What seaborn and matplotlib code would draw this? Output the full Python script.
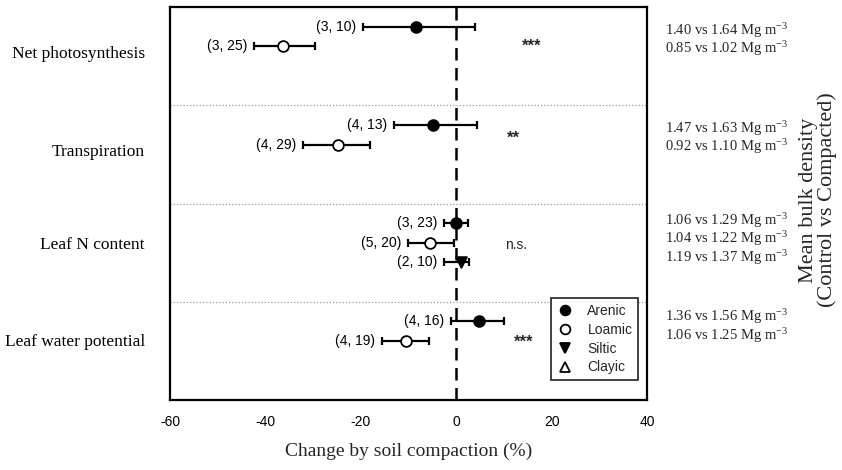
import matplotlib
matplotlib.use("Agg")
import matplotlib.pyplot as plt
import seaborn as sns
import pandas as pd
from matplotlib.lines import Line2D

# ---------------- data ----------------
variables = ["Net photosynthesis", "Transpiration", "Leaf N content", "Leaf water potential"]
row_variable = [0, 0, 1, 1, 2, 2, 2, 3, 3]
row_soil = ["Arenic", "Loamic", "Arenic", "Loamic", "Arenic", "Loamic", "Siltic", "Arenic", "Loamic"]
row_mean = [-8.4, -36.3, -4.9, -24.7, 0.0, -5.4, 1.0, 4.7, -10.5]
row_lo = [-19.5, -42.4, -13.1, -32.1, -2.5, -10.1, -2.5, -1.0, -15.5]
row_hi = [4.0, -29.5, 4.3, -18.0, 2.4, -0.5, 2.6, 10.0, -5.7]
row_n = ["(3, 10)", "(3, 25)", "(4, 13)", "(4, 29)", "(3, 23)", "(5, 20)", "(2, 10)", "(4, 16)", "(4, 19)"]
row_density = ["1.40 vs 1.64", "0.85 vs 1.02", "1.47 vs 1.63", "0.92 vs 1.10",
               "1.06 vs 1.29", "1.04 vs 1.22", "1.19 vs 1.37", "1.36 vs 1.56", "1.06 vs 1.25"]
significance = ["***", "**", "n.s.", "***"]
soils = ["Arenic", "Loamic", "Siltic", "Clayic"]
x_ticks = [-60, -40, -20, 0, 20, 40]

# ---------------- styling ----------------
sns.set_theme(style="white")
plt.rcParams["font.family"] = ["Liberation Sans", "DejaVu Sans"]
plt.rcParams["mathtext.default"] = "regular"
SERIF = ["Liberation Serif", "DejaVu Serif"]

marker_map = {"Arenic": "o", "Loamic": "o", "Siltic": "v", "Clayic": "^"}
face_map = {"Arenic": "black", "Loamic": "white", "Siltic": "black", "Clayic": "white"}

df = pd.DataFrame({
    "vidx": row_variable, "soil": row_soil, "mean": row_mean,
    "lo": row_lo, "hi": row_hi, "n": row_n, "density": row_density,
})
df["row"] = df.groupby("vidx").cumcount()
df["y"] = df["vidx"] + 0.2 * (df["row"] + 1)

fig = plt.figure(figsize=(8.42, 4.70), dpi=100)
ax = fig.add_axes([170 / 842, 1 - 400 / 470, 477 / 842, 393 / 470])

# separators and zero line
for g in range(1, len(variables)):
    ax.axhline(g, color="#9a9a9a", ls=(0, (1, 1.6)), lw=0.9, zorder=1)
ax.axvline(0, color="black", ls=(0, (5, 3)), lw=1.8, zorder=1)

# error bars + markers
for s in soils:
    sub = df[df["soil"] == s]
    if sub.empty:
        continue
    ax.errorbar(sub["mean"], sub["y"],
                xerr=[sub["mean"] - sub["lo"], sub["hi"] - sub["mean"]],
                fmt="none", ecolor="black", elinewidth=1.6, capsize=3.2,
                capthick=1.6, zorder=2)
    sns.scatterplot(data=sub, x="mean", y="y", marker=marker_map[s],
                    facecolor=face_map[s], edgecolor="black", linewidth=1.3,
                    s=60, zorder=3, ax=ax, legend=False)

# sample-size annotations
for _, r in df.iterrows():
    ax.annotate(r["n"], xy=(r["lo"], r["y"]), xytext=(-5, 0),
                textcoords="offset points", ha="right", va="center",
                fontsize=10, color="black")

# significance marks
sig_x = [15.8, 12.0, 12.6, 14.1]
sig_y = [0.40, 1.34, 2.42, 3.41]
for i, t in enumerate(significance):
    if t == "n.s.":
        ax.text(sig_x[i], sig_y[i], t, ha="center", va="center", fontsize=10)
    else:
        ax.text(sig_x[i], sig_y[i], t, ha="center", va="center",
                fontsize=12, fontweight="bold")

# bulk density texts on the right
text_start = [0.235, 0.235, 0.17, 0.155]
for _, r in df.iterrows():
    yy = r["vidx"] + text_start[r["vidx"]] + 0.19 * r["row"]
    ax.text(1.038, yy, r["density"] + " Mg m$^{-3}$",
            transform=ax.get_yaxis_transform(), ha="left", va="center",
            fontsize=10.5, family=SERIF, clip_on=False)

fig.text(818 / 842, 1 - 200 / 470, "Mean bulk density\n(Control vs Compacted)",
         rotation=90, ha="center", va="center", multialignment="center",
         fontsize=16, family=SERIF, linespacing=1.0)

# axes
ax.set_xlim(-60, 40)
ax.set_ylim(4, 0)
ax.set_xticks(x_ticks)
ax.set_xticklabels([str(v) for v in x_ticks], fontsize=10)
label_offsets = [0.455, 0.455, 0.40, 0.39]
ax.set_yticks([i + label_offsets[i] for i in range(len(variables))])
ax.set_yticklabels(variables, fontsize=12.5, family=SERIF)
ax.tick_params(axis="x", direction="out", length=5, width=1.5, pad=6, colors="black")
ax.tick_params(axis="y", direction="out", length=2, width=1.2, pad=16, colors="black")
ax.set_xlabel("Change by soil compaction (%)", fontsize=14, family=SERIF, labelpad=10)
ax.set_ylabel("")
for sp in ax.spines.values():
    sp.set_visible(True)
    sp.set_color("black")
    sp.set_linewidth(1.6)

handles = [Line2D([0], [0], marker=marker_map[s], linestyle="none",
                  markerfacecolor=face_map[s], markeredgecolor="black",
                  markeredgewidth=1.3, markersize=7, label=s) for s in soils]
leg = ax.legend(handles=handles, loc="lower right", bbox_to_anchor=(0.981, 0.051),
                borderaxespad=0, fontsize=10, frameon=True, fancybox=False,
                handlelength=1.2, handletextpad=1.0, labelspacing=0.35,
                borderpad=0.4)
leg.get_frame().set_edgecolor("black")
leg.get_frame().set_linewidth(1.3)

fig.savefig("out.png", dpi=100)
